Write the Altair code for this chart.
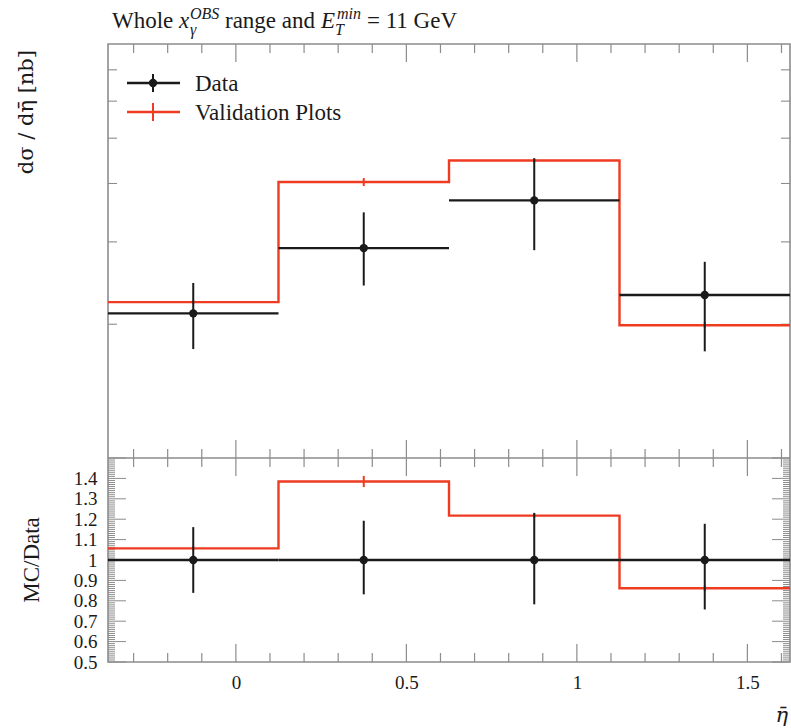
import altair as alt
import pandas as pd

# ---------------- data ----------------
edges = [-0.375, 0.125, 0.625, 1.125, 1.625]
centers = [-0.125, 0.375, 0.875, 1.375]
data_val = [2.11, 2.91, 3.68, 2.31]
data_up = [0.34, 0.56, 0.85, 0.41]
data_dn = [0.34, 0.49, 0.80, 0.56]
mc_val = [2.23, 4.03, 4.48, 1.99]
mc_err = [0.02, 0.08, 0.04, 0.03]

x_major = [0, 0.5, 1, 1.5]
x_minor = [-0.3, -0.2, -0.1, 0.1, 0.2, 0.3, 0.4, 0.6, 0.7, 0.8, 0.9,
           1.1, 1.2, 1.3, 1.4, 1.6]
logy_ticks = [2, 3, 4, 5, 6, 7]
ratio_labels = [0.5, 0.6, 0.7, 0.8, 0.9, 1, 1.1, 1.2, 1.3, 1.4]
ratio_major = ratio_labels + [1.5]
ratio_minor = [round(0.5 + 0.01 * i, 2) for i in range(101)
               if i % 10 != 0]

# ---------------- styling / layout ----------------
W = 682          # plot width
H1 = 414         # main panel height
H = 618          # main + ratio panel height
FONT = "Liberation Serif"
RED = "#ee3b22"
BLACK = "#1a1a1a"
FRAME = "#8c8c8c"

x_axis_lab = alt.Axis(values=x_major, format="~g", ticks=False, domain=False,
                      grid=False, labelPadding=11, title=None, labelFlush=False)
y_axis_lab = alt.Axis(values=ratio_labels, format="~g", ticks=False, domain=False,
                      grid=False, labelPadding=11, title=None, labelFlush=False,
                      orient="left")

xs = alt.Scale(domain=[edges[0], edges[-1]], nice=False, zero=False)
ys1 = alt.Scale(type="log", domain=[1.035, 7.95], nice=False, range=[H1, 0])
ys2 = alt.Scale(domain=[0.5, 1.5], nice=False, zero=False, range=[H, H1])

bins = pd.DataFrame({
    "lo": edges[:-1], "hi": edges[1:], "c": centers,
    "v": data_val,
    "vlo": [v - d for v, d in zip(data_val, data_dn)],
    "vhi": [v + u for v, u in zip(data_val, data_up)],
    "mclo": [m - e for m, e in zip(mc_val, mc_err)],
    "mchi": [m + e for m, e in zip(mc_val, mc_err)],
    "r": [1.0] * 4,
    "rlo": [1 - d / v for v, d in zip(data_val, data_dn)],
    "rhi": [1 + u / v for v, u in zip(data_val, data_up)],
    "rmclo": [(m - e) / v for m, e, v in zip(mc_val, mc_err, data_val)],
    "rmchi": [(m + e) / v for m, e, v in zip(mc_val, mc_err, data_val)],
})
step = pd.DataFrame({
    "x": edges,
    "mc": mc_val + [mc_val[-1]],
    "rmc": [m / v for m, v in zip(mc_val, data_val)] + [mc_val[-1] / data_val[-1]],
})
dummy = pd.DataFrame({"a": [0]})


def X(f):
    return alt.X(f"{f}:Q", scale=xs, axis=x_axis_lab)


def Y1(f):
    return alt.Y(f"{f}:Q", scale=ys1, axis=None)


def Y2(f, lab=False):
    return alt.Y(f"{f}:Q", scale=ys2, axis=y_axis_lab if lab else None)


def txt(s, x, y, size=23, italic=False, align="left", angle=0,
        baseline="alphabetic", font=FONT):
    kw = dict(text=s, font=font, fontSize=size, align=align, baseline=baseline,
              color=BLACK)
    if italic:
        kw["fontStyle"] = "italic"
    if angle:
        kw["angle"] = angle
    return alt.Chart(dummy).mark_text(**kw).encode(x=alt.value(x), y=alt.value(y))


layers = []

# ---- ticks (inward, on all sides of both panels) ----
for vals, L in [(x_minor, 9), (x_major, 18)]:
    base = alt.Chart(pd.DataFrame({"t": vals})).mark_rule(color=FRAME, strokeWidth=1.2)
    for y0, y1 in [(0, L), (H1, H1 - L), (H1, H1 + L), (H, H - L)]:
        layers.append(base.encode(x=X("t"), y=alt.value(y0), y2=alt.value(y1)))

tb = alt.Chart(pd.DataFrame({"t": logy_ticks})).mark_rule(color=FRAME, strokeWidth=1.1)
layers.append(tb.encode(y=Y1("t"), x=alt.value(0), x2=alt.value(9)))
layers.append(tb.encode(y=Y1("t"), x=alt.value(W), x2=alt.value(W - 9)))

for vals, L in [(ratio_minor, 7), (ratio_major, 18)]:
    rb = alt.Chart(pd.DataFrame({"t": vals})).mark_rule(color=FRAME, strokeWidth=1.0)
    layers.append(rb.encode(y=Y2("t"), x=alt.value(0), x2=alt.value(L)))
    layers.append(rb.encode(y=Y2("t"), x=alt.value(W), x2=alt.value(W - L)))

# panel separator
layers.append(alt.Chart(dummy).mark_rule(color=FRAME, strokeWidth=1.6).encode(
    x=alt.value(0), x2=alt.value(W), y=alt.value(H1)))

# ---- main panel ----
layers.append(alt.Chart(step).mark_line(interpolate="step-after", color=RED,
                                        strokeWidth=2.4).encode(x=X("x"), y=Y1("mc")))
layers.append(alt.Chart(bins).mark_rule(color=RED, strokeWidth=2).encode(
    x=X("c"), y=Y1("mclo"), y2="mchi"))
layers.append(alt.Chart(bins).mark_rule(color=BLACK, strokeWidth=2.4).encode(
    x=X("lo"), x2="hi", y=Y1("v")))
layers.append(alt.Chart(bins).mark_rule(color=BLACK, strokeWidth=2).encode(
    x=X("c"), y=Y1("vlo"), y2="vhi"))
layers.append(alt.Chart(bins).mark_circle(color=BLACK, size=70, opacity=1).encode(
    x=X("c"), y=Y1("v")))

# ---- ratio panel ----
layers.append(alt.Chart(step).mark_line(interpolate="step-after", color=RED,
                                        strokeWidth=2.4).encode(x=X("x"), y=Y2("rmc", True)))
layers.append(alt.Chart(bins).mark_rule(color=RED, strokeWidth=2).encode(
    x=X("c"), y=Y2("rmclo"), y2="rmchi"))
layers.append(alt.Chart(bins).mark_rule(color=BLACK, strokeWidth=2.4).encode(
    x=X("lo"), x2="hi", y=Y2("r")))
layers.append(alt.Chart(bins).mark_rule(color=BLACK, strokeWidth=2).encode(
    x=X("c"), y=Y2("rlo"), y2="rhi"))
layers.append(alt.Chart(bins).mark_circle(color=BLACK, size=70, opacity=1).encode(
    x=X("c"), y=Y2("r")))

# ---- legend ----
layers.append(alt.Chart(dummy).mark_rule(color=BLACK, strokeWidth=2.4).encode(
    x=alt.value(19), x2=alt.value(72), y=alt.value(39)))
layers.append(alt.Chart(dummy).mark_rule(color=BLACK, strokeWidth=2).encode(
    x=alt.value(45), y=alt.value(30), y2=alt.value(48)))
layers.append(alt.Chart(dummy).mark_circle(color=BLACK, size=70, opacity=1).encode(
    x=alt.value(45), y=alt.value(39)))
layers.append(alt.Chart(dummy).mark_rule(color=RED, strokeWidth=2.4).encode(
    x=alt.value(19), x2=alt.value(72), y=alt.value(68)))
layers.append(alt.Chart(dummy).mark_rule(color=RED, strokeWidth=2).encode(
    x=alt.value(45), y=alt.value(59), y2=alt.value(77)))
layers.append(txt("Data", 87, 47))
layers.append(txt("Validation Plots", 87, 76))

# ---- title pieces (x_γ^OBS and E_T^min) ----
layers += [
    txt("Whole", 4, -16),
    txt("x", 71, -16, italic=True),
    txt("OBS", 82, -25, size=16, italic=True),
    txt("γ", 82, -9, size=16, italic=True),
    txt("range and", 117, -16),
    txt("E", 213, -16, italic=True),
    txt("min", 229, -25, size=16, italic=True),
    txt("T", 227, -9, size=16, italic=True),
    txt("= 11 GeV", 259, -16),
]

# ---- axis titles ----
layers.append(txt("dσ / dη̄ [nb]", -81, 6, size=21, align="right", angle=270,
                  baseline="middle", font="DejaVu Serif"))
layers.append(txt("MC/Data", -76, 516, align="center", angle=270,
                  baseline="middle"))
layers.append(txt("η̄", 680, 678, size=21, align="right", italic=True,
                  font="DejaVu Serif"))

chart = alt.layer(*layers).resolve_scale(y="independent").properties(
    width=W, height=H,
    padding={"left": 108, "top": 44, "right": 1, "bottom": 66},
    autosize=alt.AutoSizeParams(type="none"),
).configure_view(stroke=FRAME, strokeWidth=1.6).configure_axis(
    labelFont=FONT, labelFontSize=19, labelColor=BLACK
)

chart.save("out.html", embed_options={"renderer": "svg", "actions": False})
